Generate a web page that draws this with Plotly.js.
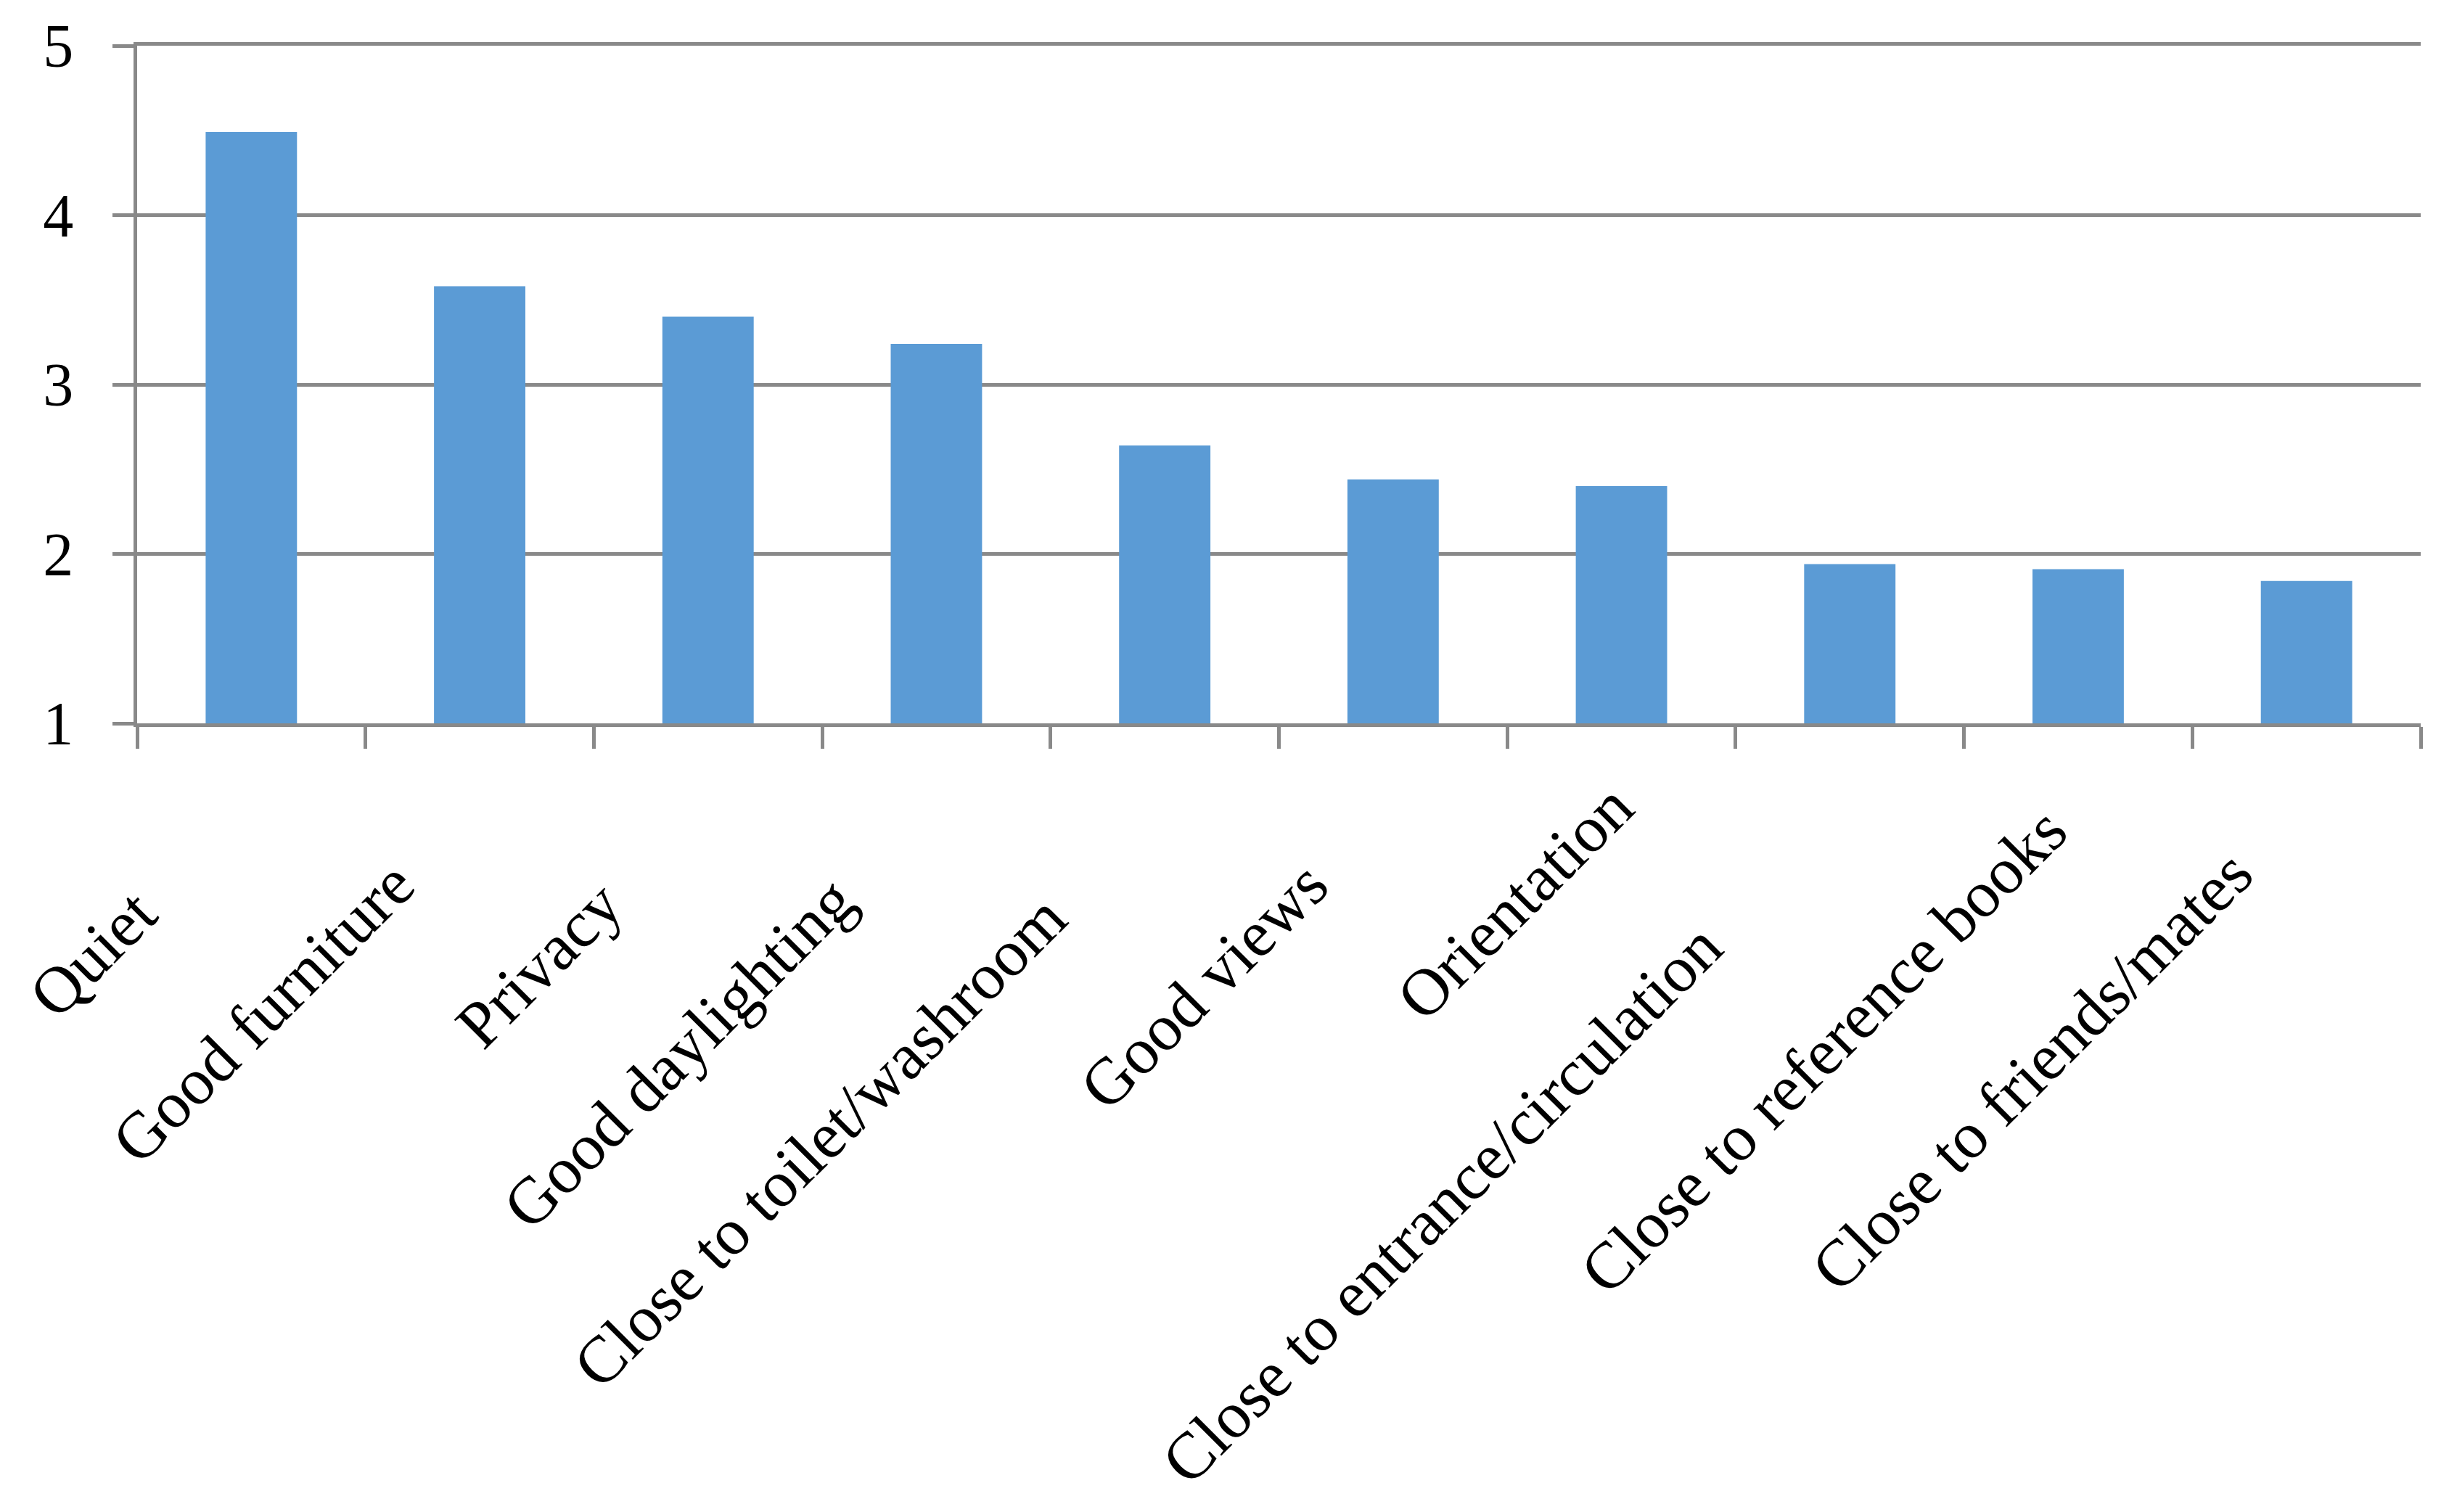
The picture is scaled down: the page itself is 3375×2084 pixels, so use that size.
<!DOCTYPE html>
<html>
<head>
<meta charset="utf-8">
<script src="https://cdn.plot.ly/plotly-3.0.1.min.js"></script>
<style>
  html, body { margin: 0; padding: 0; background: #ffffff; }
  #chart { width: 3375px; height: 2084px; }
</style>
</head>
<body>
<div id="chart"></div>
<script>
const categories = [
  "Quiet",
  "Good furniture",
  "Privacy",
  "Good daylighting",
  "Close to toilet/washroom",
  "Good views",
  "Orientation",
  "Close to entrance/circulation",
  "Close to reference books",
  "Close to friends/mates"
];
const scores = [4.49, 3.58, 3.40, 3.24, 2.64, 2.44, 2.40, 1.94, 1.91, 1.84];
const yTickValues = [1, 2, 3, 4, 5];
const yTickLabels = ["1", "2", "3", "4", "5"];
const axisMin = 1;

// layout only: how far each rotated label slides along its own direction (px)
const labelSlide = [-184, -144, -172, -166, -190, -144, -38, -230, -70, -128];

const axisGray = "#898989";
const fontFamily = "'Liberation Serif', 'Times New Roman', serif";

const trace = {
  type: "bar",
  x: categories,
  y: scores.map(v => v - axisMin),
  base: axisMin,
  marker: { color: "#5B9BD5", line: { width: 0 } },
  hoverinfo: "x+y"
};

// rotated category labels placed on the category axis
const labelAnnotations = categories.map((c, i) => ({
  xref: "x",
  yref: "paper",
  x: c,
  y: 0,
  text: c,
  showarrow: false,
  textangle: -45,
  xanchor: "right",
  yanchor: "top",
  xshift: labelSlide[i] + 76,
  yshift: labelSlide[i] - 24,
  font: { family: fontFamily, size: 91, color: "#000000" }
}));

const layout = {
  width: 3375,
  height: 2084,
  margin: { l: 189, r: 39, t: 63, b: 1087, pad: 0 },
  paper_bgcolor: "#ffffff",
  plot_bgcolor: "#ffffff",
  showlegend: false,
  bargap: 0.6,
  font: { family: fontFamily, size: 84, color: "#000000" },
  annotations: labelAnnotations,
  xaxis: {
    type: "category",
    range: [-0.5, categories.length - 0.5],
    autorange: false,
    tickson: "boundaries",
    ticks: "outside",
    ticklen: 30,
    tickwidth: 5,
    tickcolor: axisGray,
    showticklabels: false,
    showline: true,
    mirror: true,
    linecolor: axisGray,
    linewidth: 5,
    showgrid: false,
    zeroline: false
  },
  yaxis: {
    range: [1, 5],
    autorange: false,
    tickvals: yTickValues,
    ticktext: yTickLabels,
    ticks: "outside",
    ticklen: 29,
    tickwidth: 5,
    tickcolor: axisGray,
    showline: true,
    linecolor: axisGray,
    linewidth: 5,
    showgrid: true,
    gridcolor: axisGray,
    gridwidth: 5,
    zeroline: false,
    ticklabelstandoff: 37,
    tickfont: { family: fontFamily, size: 84, color: "#000000" }
  }
};

Plotly.newPlot("chart", [trace], layout, { staticPlot: true, displayModeBar: false });
</script>
</body>
</html>
